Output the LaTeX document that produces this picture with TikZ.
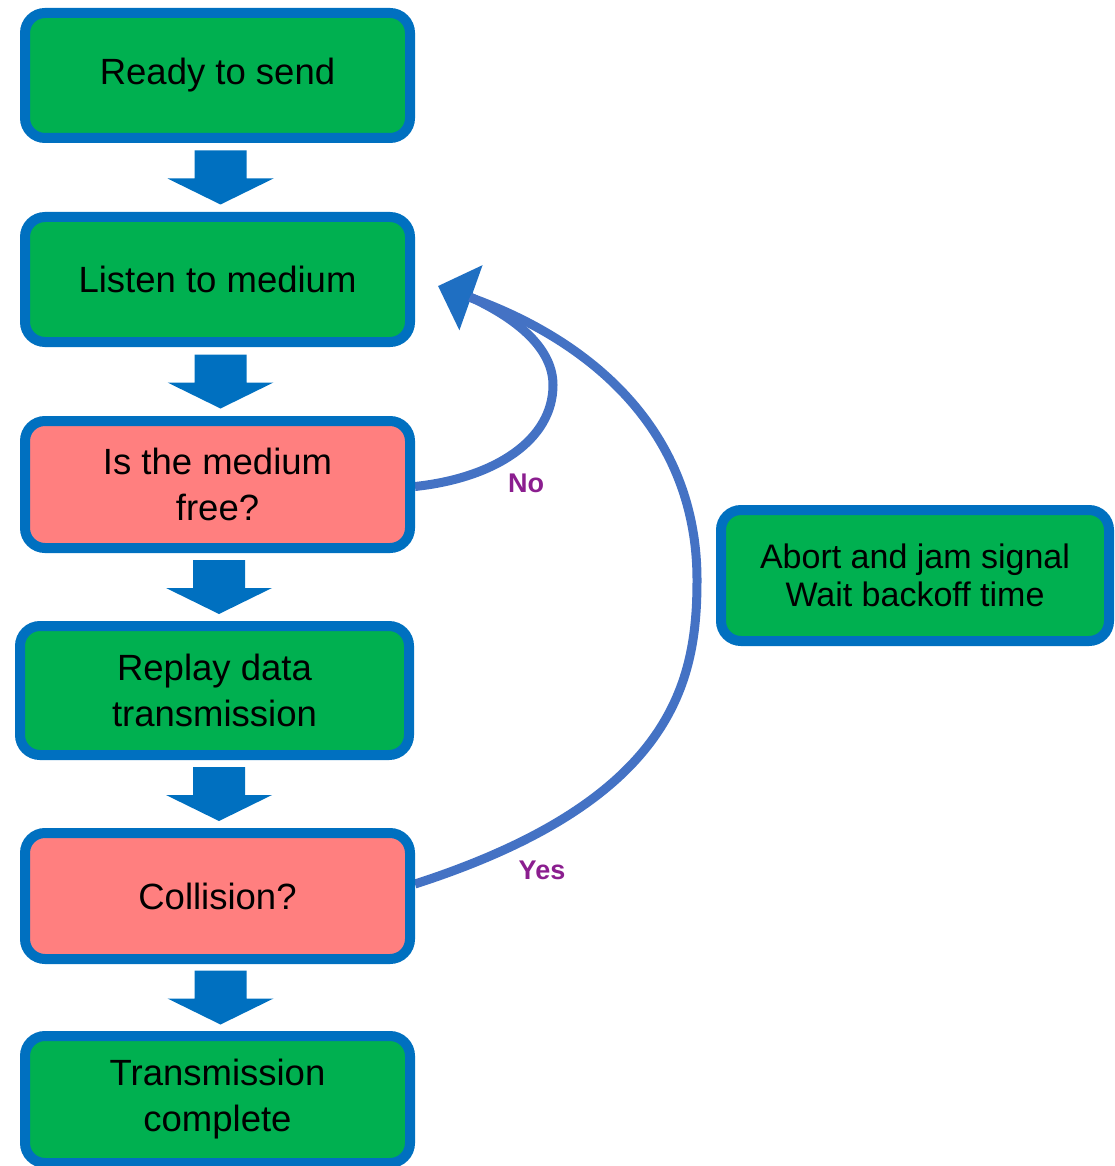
\documentclass[tikz,border=0pt]{standalone}
\usepackage{fontspec}
\setmainfont{Liberation Sans}
\usetikzlibrary{calc,arrows.meta,backgrounds}
\definecolor{boxblue}{HTML}{0070C0}
\definecolor{boxgreen}{HTML}{00B050}
\definecolor{boxpink}{HTML}{FF7F7F}
\definecolor{curveblue}{HTML}{4472C4}
\definecolor{tipblue}{HTML}{1F6FC2}
\definecolor{lblpurple}{HTML}{8B1E8F}
\tikzset{
 flowbox/.style={draw=boxblue, line width=10pt, rounded corners=20pt, minimum width=385pt, align=center, font=\fontsize{36.5}{46}\selectfont, inner sep=0pt},
 greenbox/.style={flowbox, fill=boxgreen},
 pinkbox/.style={flowbox, fill=boxpink},
 loopline/.style={draw=curveblue, line width=9pt, line join=round},
 lbl/.style={text=lblpurple, font=\bfseries\fontsize{27}{32}\selectfont},
}
\newcommand\blockarrow[2]{\fill[boxblue] ($(#1.south)!.5!(#2.north)+(3,0)$) ++(-26,-27) -- ++(52,0) -- ++(0,28) -- ++(27,0) -- ++(-53,26) -- ++(-53,-26) -- ++(27,0) -- cycle;}
\begin{document}
\begin{tikzpicture}[x=1pt,y=-1pt]
\useasboundingbox (0,0) rectangle (1115,1166);
\node[greenbox, minimum height=125pt] (b1) at (217.5,75.5) {Ready to send};
\node[greenbox, minimum height=125pt] (b2) at (217.5,279.5) {Listen to medium};
\node[pinkbox, minimum height=127pt] (b3) at (217.5,484.5) {Is the medium\\free?};
\node[greenbox, minimum width=389pt, minimum height=129pt] (b4) at (214.5,690.5) {Replay data\\transmission};
\node[pinkbox, minimum height=126pt] (b5) at (217.5,896) {Collision?};
\node[greenbox, minimum height=127pt] (b6) at (217.5,1099.5) {Transmission\\complete};
\node[greenbox, minimum width=388pt, minimum height=131pt, font=\fontsize{34}{38}\selectfont] (ab) at (915,575.5) {Abort and jam signal\\Wait backoff time};
\blockarrow{b1}{b2}
\blockarrow{b2}{b3}
\blockarrow{b3}{b4}
\blockarrow{b4}{b5}
\blockarrow{b5}{b6}
\coordinate (tipL) at (438,286);
\coordinate (merge) at (470,297);
\begin{scope}[on background layer]
\draw[loopline, -{Triangle[length=35pt,width=67pt,color=tipblue]}] ($(b5.east)+(0,-12)$) .. controls (675,800) and (697,680) .. (697,580) .. controls (697,430) and (590,340) .. (tipL);
\draw[loopline] ($(b3.east)+(0,2)$) .. controls (495,478) and (553,440) .. (553,385) .. controls (553,350) and (520,320) .. (merge);
\end{scope}
\node[lbl] (no) at (526,483) {No};
\node[lbl] (yes) at (542,870) {Yes};
\end{tikzpicture}
\end{document}
